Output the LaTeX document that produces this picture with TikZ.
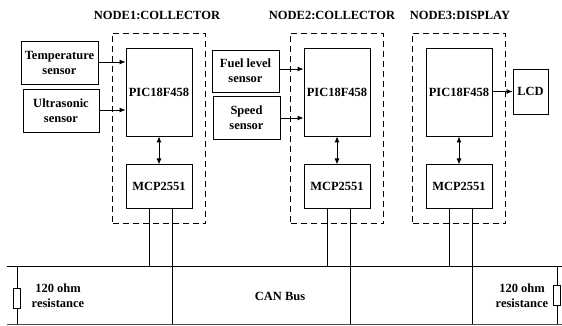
\documentclass[tikz,border=0pt]{standalone}
\usepackage{fontspec}
\setmainfont{Liberation Serif}
\usepackage{tikz}
\usetikzlibrary{positioning, arrows.meta, calc, fit}

\begin{document}
\begin{tikzpicture}[x=1pt, y=-1pt,
            block/.style={draw=black, line width=0.9pt, rectangle, align=center, inner sep=1pt, font=\bfseries\fontsize{12.5}{15}\selectfont},
            chip/.style={block, minimum width=66pt, minimum height=88pt},
            xcvr/.style={block, minimum width=66pt, minimum height=44pt},
            sensorbox/.style={block, minimum height=43pt},
            nodebox/.style={draw=black, line width=0.9pt, dash pattern=on 6pt off 4pt, inner xsep=13pt, inner ysep=14.5pt},
            title/.style={font=\bfseries\fontsize{12.5}{15}\selectfont},
            wire/.style={line width=0.9pt},
            sig/.style={line width=0.9pt, -{Latex[length=6pt, width=5pt]}},
            both/.style={line width=0.9pt, {Latex[length=6pt, width=5pt]}-{Latex[length=6pt, width=5pt]}},
            res/.style={draw=black, line width=0.9pt, fill=white, minimum width=7pt, minimum height=20pt, inner sep=0pt},
            txt/.style={align=center, font=\bfseries\fontsize{12.5}{15}\selectfont}
        ]
        \useasboundingbox (0,0) rectangle (562,326);

        % Knoten
        \node[chip] (pic1) at (159,92) {PIC18F458};
        \node[xcvr, below=28pt of pic1] (mcp1) {MCP2551};
        \node[chip] (pic2) at (337,92) {PIC18F458};
        \node[xcvr, below=28pt of pic2] (mcp2) {MCP2551};
        \node[chip] (pic3) at (459,92) {PIC18F458};
        \node[xcvr, below=28pt of pic3] (mcp3) {MCP2551};

        \node[nodebox, fit=(pic1)(mcp1)] (n1) {};
        \node[nodebox, fit=(pic2)(mcp2)] (n2) {};
        \node[nodebox, fit=(pic3)(mcp3)] (n3) {};

        \node[title] (t1) at (157,15) {NODE1:COLLECTOR};
        \node[title] (t2) at (332,15) {NODE2:COLLECTOR};
        \node[title] (t3) at (460,15) {NODE3:DISPLAY};

        \node[sensorbox, minimum width=77pt] (temp) at (59.5,62.5) {Temperature\\sensor};
        \node[sensorbox, minimum width=76pt] (ultra) at (61,110.5) {Ultrasonic\\sensor};
        \node[sensorbox, minimum width=67pt, minimum height=42pt] (fuel) at (245.5,71) {Fuel level\\sensor};
        \node[sensorbox, minimum width=67pt] (speed) at (246.5,117.5) {Speed\\sensor};
        \node[block, minimum width=35pt, minimum height=45pt] (lcd) at (530.5,91.5) {LCD};

        % Bus
        \coordinate (busTL) at (7,266);
        \coordinate (busTR) at (562,266);
        \coordinate (busBL) at (7,324);
        \coordinate (busBR) at (562,324);
        \draw[wire] (busTL) -- (busTR);
        \draw[line width=0.7pt, black!70] (busBL) -- (busBR);
        \node[txt] (can) at (280,296) {CAN Bus};

        \coordinate (rl) at (17,266);
        \coordinate (rr) at (557,266);
        \draw[wire] (rl) -- (rl |- busBL);
        \draw[wire] (rr) -- (rr |- busBR);
        \node[res] (resl) at (17,298) {};
        \node[res] (resr) at (557,295) {};
        \node[txt] (lbl) at (58,296) {120 ohm\\resistance};
        \node[txt] (lbr) at (522,296) {120 ohm\\resistance};

        % Kanten
        \draw[sig] (temp.east |- 0,62) -- (pic1.west |- 0,62);
        \draw[sig] (ultra.east |- 0,110) -- (pic1.west |- 0,110);
        \draw[sig] (fuel.east |- 0,69) -- (pic2.west |- 0,69);
        \draw[sig] (speed.east |- 0,118) -- (pic2.west |- 0,118);
        \draw[sig] (pic3.east |- lcd.west) -- (lcd.west);

        \foreach \i in {1,2,3} {
            \draw[both] (pic\i.south) -- (mcp\i.north);
            \coordinate (h\i) at ($(mcp\i.south)+(-10,0)$);
            \coordinate (l\i) at ($(mcp\i.south)+(13,0)$);
            \draw[wire] (h\i) -- (h\i |- busTL);
            \draw[wire] (l\i) -- (l\i |- busBL);
        }

    \end{tikzpicture}
\end{document}
